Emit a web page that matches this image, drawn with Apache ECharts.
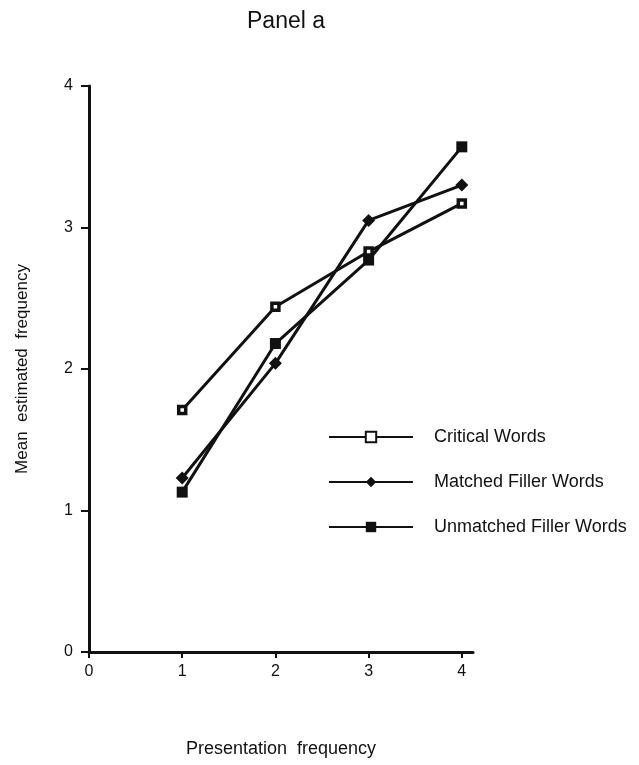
<!DOCTYPE html>
<html>
<head>
<meta charset="utf-8">
<script src="https://cdn.jsdelivr.net/npm/echarts@6/dist/echarts.min.js"></script>
<style>html,body{margin:0;padding:0;background:#fff;}#c{width:639px;height:765px;}</style>
</head>
<body>
<div id="c"></div>
<script>
var xValues = [1, 2, 3, 4];
var criticalWords = [1.71, 2.44, 2.83, 3.17];
var matchedFiller = [1.23, 2.04, 3.05, 3.30];
var unmatchedFiller = [1.13, 2.18, 2.77, 3.57];
var xTicks = [0, 1, 2, 3, 4];
var yTicks = [0, 1, 2, 3, 4];

function pairs(vals) { return xValues.map(function (x, i) { return [x, vals[i]]; }); }

var FONT = '"Liberation Sans", Arial, Helvetica, sans-serif';
var INK = '#111';
var chart = echarts.init(document.getElementById('c'), null, { renderer: 'canvas' });
chart.setOption({
  backgroundColor: '#fff',
  animation: false,
  title: {
    text: 'Panel a',
    left: 281, top: 5, textAlign: 'center',
    textStyle: { fontFamily: FONT, fontSize: 23, fontWeight: 'normal', color: INK }
  },
  grid: { left: 89, top: 86, right: 166, bottom: 113, containLabel: false },
  xAxis: {
    type: 'value', min: 0, max: 4.12,
    name: 'Presentation  frequency', nameLocation: 'middle', nameGap: 88,
    nameTextStyle: { fontFamily: FONT, fontSize: 18, color: INK },
    axisLine: { show: true, onZero: false, lineStyle: { color: INK, width: 3 } },
    axisTick: { show: true, length: 6, customValues: xTicks, lineStyle: { color: INK, width: 2 } },
    axisLabel: { customValues: xTicks, margin: 12, fontFamily: FONT, fontSize: 16, color: INK },
    splitLine: { show: false }
  },
  yAxis: {
    type: 'value', min: 0, max: 4, interval: 1,
    name: 'Mean  estimated  frequency', nameLocation: 'middle', nameGap: 58,
    nameTextStyle: { fontFamily: FONT, fontSize: 17, color: INK },
    axisLine: { show: true, lineStyle: { color: INK, width: 3 } },
    axisTick: { show: true, length: 8, lineStyle: { color: INK, width: 2 } },
    axisLabel: { margin: 16, fontFamily: FONT, fontSize: 16, color: INK },
    splitLine: { show: false }
  },
  legend: {
    orient: 'vertical', left: 323, top: 423,
    itemWidth: 84, itemHeight: 13, itemGap: 27,
    textStyle: { fontFamily: FONT, fontSize: 18, color: INK, padding: [0, 0, 0, 16] },
    data: ['Critical Words', 'Matched Filler Words', 'Unmatched Filler Words']
  },
  series: [
    {
      name: 'Critical Words', type: 'line', data: pairs(criticalWords),
      symbol: 'rect', symbolSize: 7,
      lineStyle: { color: INK, width: 3 },
      itemStyle: { color: '#fff', borderColor: INK, borderWidth: 3.5 }
    },
    {
      name: 'Matched Filler Words', type: 'line', data: pairs(matchedFiller),
      symbol: 'diamond', symbolSize: 13,
      lineStyle: { color: INK, width: 3 },
      itemStyle: { color: INK, borderColor: INK, borderWidth: 0 }
    },
    {
      name: 'Unmatched Filler Words', type: 'line', data: pairs(unmatchedFiller),
      symbol: 'rect', symbolSize: 11,
      lineStyle: { color: INK, width: 3 },
      itemStyle: { color: INK, borderColor: INK, borderWidth: 0 }
    }
  ]
});
</script>
</body>
</html>
